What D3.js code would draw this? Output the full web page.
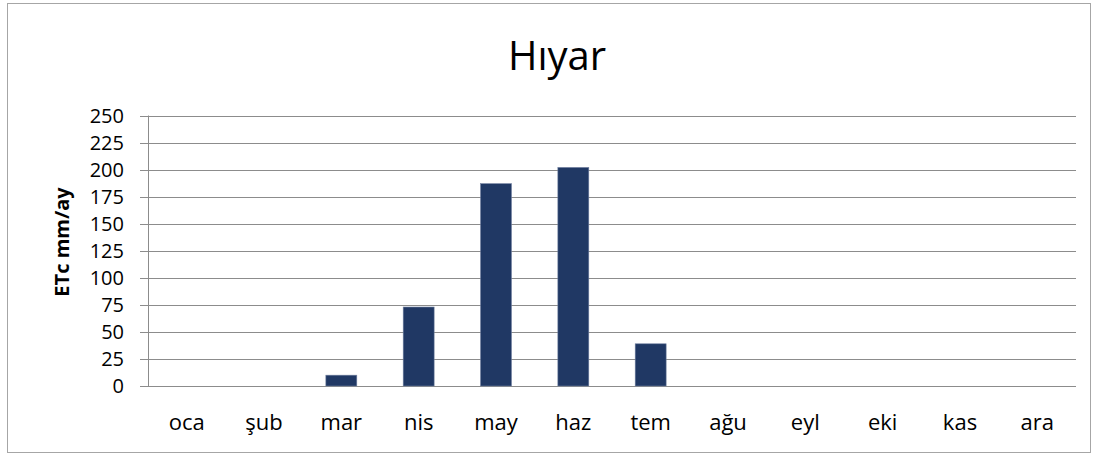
<!DOCTYPE html>
<html>
<head>
<meta charset="utf-8">
<script src="https://cdn.jsdelivr.net/npm/d3@7"></script>
<style>
  body { margin: 0; background: #fff; }
  svg text { font-family: "Open Sans", sans-serif; fill: #000; }
</style>
</head>
<body>
<svg id="chart"></svg>
<script>
const months = ['oca', 'şub', 'mar', 'nis', 'may', 'haz', 'tem', 'ağu', 'eyl', 'eki', 'kas', 'ara'];
const etc = [0, 0, 10, 73, 187, 202, 39, 0, 0, 0, 0, 0];
const yTicks = [0, 25, 50, 75, 100, 125, 150, 175, 200, 225, 250];

const width = 1097, height = 454;
const margin = { top: 115.5, right: 21, bottom: 68, left: 148 };

const svg = d3.select('#chart')
  .attr('width', width)
  .attr('height', height);

// outer chart border
svg.append('rect')
  .attr('x', 7.5)
  .attr('y', 3.5)
  .attr('width', 1083)
  .attr('height', 449)
  .style('fill', 'none')
  .style('stroke', '#a6a6a6')
  .style('stroke-width', 1);

const x = d3.scaleBand()
  .domain(months)
  .range([margin.left, width - margin.right])
  .paddingInner(0.6)
  .paddingOuter(0.3);

const y = d3.scaleLinear()
  .domain([0, 250])
  .range([height - margin.bottom, margin.top]);

// gridlines
svg.append('g')
  .selectAll('line')
  .data(yTicks)
  .join('line')
  .attr('x1', margin.left - 8)
  .attr('x2', width - margin.right)
  .attr('y1', d => Math.round(y(d)) + 0.5)
  .attr('y2', d => Math.round(y(d)) + 0.5)
  .style('stroke', '#8c8c8c')
  .style('stroke-width', 1);

// y axis line
svg.append('line')
  .attr('x1', margin.left + 0.5)
  .attr('x2', margin.left + 0.5)
  .attr('y1', y(250))
  .attr('y2', y(0))
  .style('stroke', '#8c8c8c');

// y tick labels
svg.append('g')
  .selectAll('text')
  .data(yTicks)
  .join('text')
  .attr('x', 124)
  .attr('y', d => y(d))
  .attr('dy', '0.36em')
  .attr('text-anchor', 'end')
  .style('font-size', '20px')
  .text(d => d);

// bars
svg.append('g')
  .selectAll('rect')
  .data(etc)
  .join('rect')
  .attr('x', (d, i) => x(months[i]))
  .attr('y', d => y(d))
  .attr('width', x.bandwidth())
  .attr('height', d => y(0) - y(d))
  .style('fill', '#203864')
  .style('stroke', d => d > 0 ? '#6f7f9f' : 'none')
  .style('stroke-width', 0.6);

// x labels
svg.append('g')
  .selectAll('text')
  .data(months)
  .join('text')
  .attr('x', d => x(d) + x.bandwidth() / 2)
  .attr('y', 430)
  .attr('text-anchor', 'middle')
  .style('font-size', '22px')
  .text(d => d);

// title
svg.append('text')
  .attr('x', 557)
  .attr('y', 70)
  .attr('text-anchor', 'middle')
  .style('font-size', '40px')
  .text('Hıyar');

// y axis title
svg.append('text')
  .attr('transform', 'translate(69, 242) rotate(-90)')
  .attr('text-anchor', 'middle')
  .style('font-size', '20px')
  .style('font-weight', 'bold')
  .text('ETc mm/ay');
</script>
</body>
</html>
